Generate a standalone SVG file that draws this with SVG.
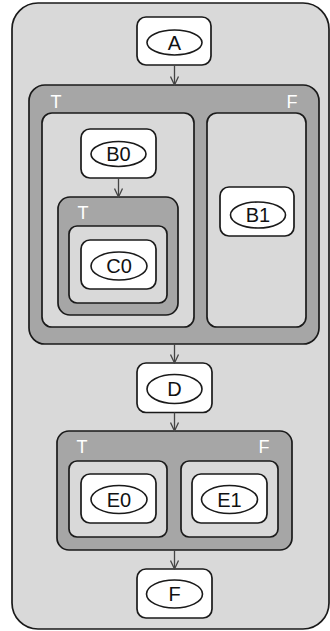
<svg xmlns="http://www.w3.org/2000/svg" width="330" height="631" viewBox="0 0 330 631">
  <style>
    .outer { fill: #d9d9d9; stroke: #1a1a1a; stroke-width: 1.7; }
    .cond { fill: #a6a6a6; stroke: #1a1a1a; stroke-width: 1.7; }
    .branch { fill: #d9d9d9; stroke: #1a1a1a; stroke-width: 1.7; }
    .box { fill: #ffffff; stroke: #1a1a1a; stroke-width: 1.7; }
    .oval { fill: #ffffff; stroke: #1a1a1a; stroke-width: 1.6; }
    .lbl { font-family: "Liberation Sans", Arial, sans-serif; font-size: 20px; fill: #111; text-anchor: middle; }
    .tf { font-family: "Liberation Sans", Arial, sans-serif; font-size: 18px; fill: #ffffff; text-anchor: middle; }
    .edge { fill: none; stroke: #444; stroke-width: 1.3; }
  </style>
  <defs>
    <marker id="arrow" viewBox="0 0 10 10" refX="9.5" refY="5" markerWidth="10" markerHeight="10" markerUnits="userSpaceOnUse" orient="auto">
      <path d="M1,1 L9.5,5 L1,9" fill="none" stroke="#444" stroke-width="1.3"/>
    </marker>
  </defs>

  <!-- enclosing block -->
  <rect class="outer" x="12" y="3" width="317" height="626" rx="26"/>

  <!-- condition on A: T / F -->
  <g id="cond1">
    <rect class="cond" x="29" y="85" width="290" height="259" rx="16"/>
    <text class="tf" x="56" y="108">T</text>
    <text class="tf" x="292" y="108">F</text>
    <rect class="branch" x="42" y="113" width="152" height="214" rx="10"/>
    <rect class="branch" x="207" y="113" width="99" height="214" rx="10"/>
  </g>

  <!-- nested condition inside T branch -->
  <g id="cond2">
    <rect class="cond" x="58" y="197" width="120" height="118" rx="12"/>
    <text class="tf" x="83" y="219">T</text>
    <rect class="branch" x="69" y="226" width="98" height="77" rx="8"/>
  </g>

  <!-- condition on D: T / F -->
  <g id="cond3">
    <rect class="cond" x="57" y="431" width="235" height="119" rx="12"/>
    <text class="tf" x="82" y="453">T</text>
    <text class="tf" x="264" y="453">F</text>
    <rect class="branch" x="69" y="461" width="98" height="76" rx="8"/>
    <rect class="branch" x="181" y="461" width="97" height="76" rx="8"/>
  </g>

  <g id="A">
    <rect class="box" x="137" y="17" width="74" height="48" rx="9"/>
    <ellipse class="oval" cx="174.5" cy="42.5" rx="27.5" ry="12.5"/>
    <text class="lbl" x="174.5" y="49.5">A</text>
  </g>
  <g id="B0">
    <rect class="box" x="81" y="129" width="75" height="49" rx="9"/>
    <ellipse class="oval" cx="118.5" cy="154" rx="27.5" ry="12.5"/>
    <text class="lbl" x="118.5" y="161">B0</text>
  </g>
  <g id="C0">
    <rect class="box" x="81" y="240" width="75" height="49" rx="9"/>
    <ellipse class="oval" cx="119" cy="266" rx="28" ry="14"/>
    <text class="lbl" x="119" y="273">C0</text>
  </g>
  <g id="B1">
    <rect class="box" x="220" y="187" width="74" height="49" rx="9"/>
    <ellipse class="oval" cx="258" cy="215" rx="27.5" ry="13"/>
    <text class="lbl" x="258" y="222">B1</text>
  </g>
  <g id="D">
    <rect class="box" x="137" y="363" width="75" height="49.5" rx="9"/>
    <ellipse class="oval" cx="174.5" cy="389" rx="27.5" ry="14.5"/>
    <text class="lbl" x="174.5" y="396">D</text>
  </g>
  <g id="E0">
    <rect class="box" x="81" y="474" width="75" height="49" rx="9"/>
    <ellipse class="oval" cx="119" cy="499.5" rx="28" ry="14"/>
    <text class="lbl" x="119" y="506.5">E0</text>
  </g>
  <g id="E1">
    <rect class="box" x="192" y="474" width="75" height="49" rx="9"/>
    <ellipse class="oval" cx="229.5" cy="499.5" rx="28" ry="14"/>
    <text class="lbl" x="229.5" y="506.5">E1</text>
  </g>
  <g id="F">
    <rect class="box" x="137" y="569" width="75" height="49" rx="9"/>
    <ellipse class="oval" cx="174.5" cy="594" rx="28" ry="14"/>
    <text class="lbl" x="174.5" y="601">F</text>
  </g>

  <g id="edges">
    <line class="edge" x1="174.5" y1="65" x2="174.5" y2="85" marker-end="url(#arrow)"/>
    <line class="edge" x1="118.5" y1="178" x2="118.5" y2="197" marker-end="url(#arrow)"/>
    <line class="edge" x1="174.5" y1="344" x2="174.5" y2="363" marker-end="url(#arrow)"/>
    <line class="edge" x1="174.5" y1="412.5" x2="174.5" y2="431" marker-end="url(#arrow)"/>
    <line class="edge" x1="174.5" y1="550" x2="174.5" y2="569" marker-end="url(#arrow)"/>
  </g>
</svg>
